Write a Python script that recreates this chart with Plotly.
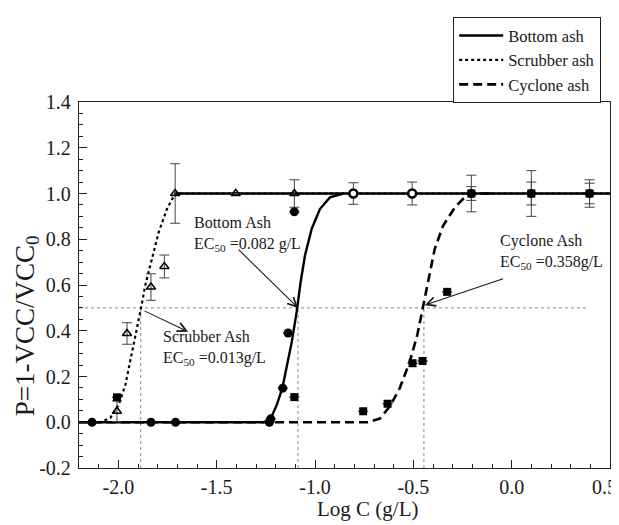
import math
import plotly.graph_objects as go

# ---------------- data ----------------
# Fitted curves
bottom_fit_x = [-2.2, -1.262, -1.228, -1.194, -1.166, -1.141, -1.118, -1.093, -1.073, -1.051, -1.017, -0.975, -0.924, -0.856, 0.5]
bottom_fit_y = [0.0, 0.0, 0.01, 0.077, 0.149, 0.251, 0.352, 0.483, 0.613, 0.729, 0.845, 0.932, 0.983, 1.0, 1.0]
plateau_x = [-1.711, -0.856]
plateau_y = [1.0, 1.0]

scrub_fit_x = [-2.13, -2.09, -2.041, -1.998, -1.964, -1.939, -1.914, -1.885, -1.863, -1.829, -1.795, -1.753, -1.711, 0.5]
scrub_fit_y = [0.0, 0.001, 0.019, 0.077, 0.164, 0.265, 0.381, 0.497, 0.599, 0.714, 0.83, 0.932, 1.0, 1.0]

cyc_fit_x = [-2.2, -0.731, -0.67, -0.619, -0.569, -0.518, -0.48, -0.453, -0.425, -0.391, -0.349, -0.289, -0.239, -0.179, -0.095]
cyc_fit_y = [0.0, 0.0, 0.016, 0.07, 0.149, 0.265, 0.381, 0.497, 0.627, 0.758, 0.859, 0.939, 0.983, 1.0, 1.0]

# Measured points
bottom_x = [-2.134, -1.834, -1.709, -1.232, -1.225, -1.164, -1.137, -1.105, -0.205, 0.1, 0.396]
bottom_y = [0.0, 0.0, 0.0, 0.0, 0.015, 0.149, 0.39, 0.92, 1.0, 1.0, 1.0]
bottom_err = [0, 0, 0, 0, 0, 0, 0, 0, 0.03, 0.05, 0.045]

open_x = [-0.805, -0.506]
open_y = [1.0, 1.0]
open_err = [0.047, 0.05]

scrub_x = [-2.007, -1.956, -1.834, -1.766, -1.711, -1.403, -1.105]
scrub_y = [0.048, 0.388, 0.591, 0.681, 1.0, 1.0, 1.0]
scrub_err = [0.045, 0.047, 0.058, 0.05, 0.13, 0.0, 0.06]

cyc_x = [-2.007, -1.105, -0.755, -0.631, -0.504, -0.453, -0.328, -0.205, 0.1, 0.396]
cyc_y = [0.109, 0.11, 0.048, 0.081, 0.258, 0.268, 0.57, 1.0, 1.0, 1.0]
cyc_err = [0, 0, 0, 0, 0, 0, 0, 0.08, 0.10, 0.06]

ec50_gL = [0.013, 0.082, 0.358]
ec50_log = [math.log10(v) for v in ec50_gL]
half_level = 0.5
half_line_end = 0.385

x_ticks = [-2.0, -1.5, -1.0, -0.5, 0.0, 0.5]
y_ticks = [-0.2, 0.0, 0.2, 0.4, 0.6, 0.8, 1.0, 1.2, 1.4]

FONT = "Liberation Serif"
INK = "#1a1a1a"

fig = go.Figure()

# guide lines
for xv in ec50_log:
    fig.add_shape(type="line", x0=xv, x1=xv, y0=-0.2, y1=half_level, xref="x", yref="y",
                  line=dict(color="#888", width=1, dash="dot"), layer="below")
fig.add_shape(type="line", x0=-2.2, x1=half_line_end, y0=half_level, y1=half_level, xref="x", yref="y",
              line=dict(color="#888", width=1, dash="dot"), layer="below")

err_style = dict(type="data", color="#444", thickness=1, width=5)

fig.add_trace(go.Scatter(x=cyc_fit_x, y=cyc_fit_y, mode="lines", name="Cyclone ash",
                         line=dict(color="black", width=2.6, dash="9px,5px"), legendrank=3))
fig.add_trace(go.Scatter(x=bottom_fit_x, y=bottom_fit_y, mode="lines", name="Bottom ash",
                         line=dict(color="black", width=2.4), legendrank=1))
fig.add_trace(go.Scatter(x=plateau_x, y=plateau_y, mode="lines", showlegend=False,
                         line=dict(color="black", width=2.4)))
fig.add_trace(go.Scatter(x=scrub_fit_x, y=scrub_fit_y, mode="lines", name="Scrubber ash",
                         line=dict(color="black", width=2.2, dash="dot"), legendrank=2))

fig.add_trace(go.Scatter(x=scrub_x, y=scrub_y, mode="markers", showlegend=False,
                         error_y=dict(array=scrub_err, **err_style),
                         marker=dict(symbol="triangle-up-open", size=8, color="black", line=dict(width=1.5))))
fig.add_trace(go.Scatter(x=cyc_x, y=cyc_y, mode="markers", showlegend=False,
                         error_y=dict(array=cyc_err, **err_style),
                         marker=dict(symbol="square", size=8, color="black")))
fig.add_trace(go.Scatter(x=bottom_x, y=bottom_y, mode="markers", showlegend=False,
                         error_y=dict(array=bottom_err, **err_style),
                         marker=dict(symbol="circle", size=9, color="black")))
fig.add_trace(go.Scatter(x=open_x, y=open_y, mode="markers", showlegend=False,
                         error_y=dict(array=open_err, **err_style),
                         marker=dict(symbol="circle", size=8, color="white", line=dict(color="black", width=2.5))))

# annotations
txt_font = dict(family=FONT, size=16, color=INK)
fig.add_annotation(x=-1.625, y=0.725, xref="x", yref="y", xanchor="left", yanchor="bottom",
                   text="Bottom Ash<br>EC<sub>50</sub> =0.082 g/L", showarrow=False, align="left", font=txt_font)
fig.add_annotation(x=ec50_log[1], y=half_level, ax=-1.396, ay=0.761, xref="x", yref="y", axref="x", ayref="y",
                   showarrow=True, arrowhead=5, arrowsize=1.6, arrowwidth=1.1, arrowcolor=INK, text="")
fig.add_annotation(x=-1.785, y=0.23, xref="x", yref="y", xanchor="left", yanchor="bottom",
                   text="Scrubber Ash<br>EC<sub>50</sub> =0.013g/L", showarrow=False, align="left", font=txt_font)
fig.add_annotation(x=-1.645, y=0.396, ax=-1.875, ay=0.49, xref="x", yref="y", axref="x", ayref="y",
                   showarrow=True, arrowhead=5, arrowsize=1.6, arrowwidth=1.1, arrowcolor=INK, text="")
fig.add_annotation(x=-0.07, y=0.65, xref="x", yref="y", xanchor="left", yanchor="bottom",
                   text="Cyclone Ash<br>EC<sub>50</sub> =0.358g/L", showarrow=False, align="left", font=txt_font)
fig.add_annotation(x=-0.442, y=0.512, ax=-0.036, ay=0.63, xref="x", yref="y", axref="x", ayref="y",
                   showarrow=True, arrowhead=5, arrowsize=1.6, arrowwidth=1.1, arrowcolor=INK, text="")

# axis titles
fig.add_annotation(x=0.544, y=-0.113, xref="paper", yref="paper", xanchor="center", yanchor="middle",
                   text="Log C (g/L)", showarrow=False, font=dict(family=FONT, size=21, color=INK))
fig.add_annotation(x=-0.098, y=0.39, xref="paper", yref="paper", xanchor="center", yanchor="middle",
                   text="P=1-VCC/VCC<sub>0</sub>", textangle=-90, showarrow=False,
                   font=dict(family=FONT, size=27, color=INK))

# last x tick label sits at the right page edge; draw it right-aligned so it stays visible
x_ticktext = [f"{v:.1f}" for v in x_ticks]
last_label = x_ticktext[-1]
x_ticktext[-1] = ""
fig.add_annotation(x=1.017, y=0, xref="paper", yref="paper", xanchor="right", yanchor="middle",
                   yshift=-19, text=last_label, showarrow=False, font=dict(family=FONT, size=20, color=INK))

axis_common = dict(showline=True, linecolor="#222", linewidth=1.3, mirror=True, showgrid=False, zeroline=False,
                   ticks="inside", ticklen=8, tickwidth=1.2, tickcolor="#222", automargin=False,
                   tickfont=dict(family=FONT, size=20, color=INK))

fig.update_xaxes(range=[-2.2, 0.5], tickvals=x_ticks, ticktext=x_ticktext,
                 minor=dict(dtick=0.1, ticks="inside", ticklen=4, tickcolor="#222", tick0=0),
                 ticklabelstandoff=1,
                 **axis_common)
fig.update_yaxes(range=[-0.2, 1.4], tickvals=y_ticks, ticktext=[f"{v:.1f}" for v in y_ticks],
                 minor=dict(dtick=0.05, ticks="inside", ticklen=4, tickcolor="#222", tick0=0),
                 ticklabelstandoff=3,
                 **axis_common)

# the page body keeps its default 8px margin, so the figure is 8px smaller than the window
fig.update_layout(
    width=611, height=517,
    margin=dict(l=71, r=9, t=89, b=57),
    plot_bgcolor="white", paper_bgcolor="white",
    font=dict(family=FONT, color=INK),
    legend=dict(x=0.983, y=1.232, xanchor="right", yanchor="top", bgcolor="white",
                bordercolor="#222", borderwidth=1.2, font=dict(family=FONT, size=16.5, color=INK),
                traceorder="normal", itemwidth=44, tracegroupgap=0),
)

fig.write_html("out.html")
